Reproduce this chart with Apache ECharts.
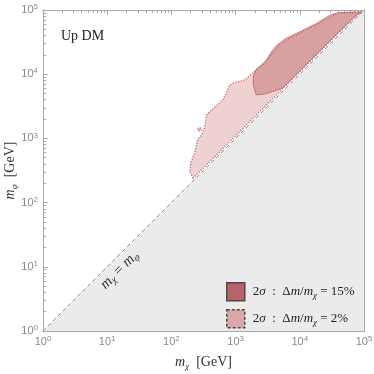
<!DOCTYPE html>
<html lang="en">
<head>
<meta charset="utf-8"/>
<title>Up DM</title>
<script src="https://cdn.jsdelivr.net/npm/echarts@6/dist/echarts.min.js"></script>
<style>
  html, body { margin: 0; padding: 0; background: #fff; }
  #chart { width: 374px; height: 374px; }
</style>
</head>
<body>
<div id="chart"></div>
<script>
// axis range (GeV), decade ticks
const axisMin = 1;
const axisMax = 1e5;
const decadeTicks = [1, 10, 100, 1000, 1e4, 1e5];
const minorTicks = [];
decadeTicks.slice(0, -1).forEach(function (d) {
    for (let k = 2; k <= 9; k++) minorTicks.push(k * d);
});

// kinematically forbidden corner m_phi < m_chi and the m_chi = m_phi line
const forbidden = [[1, 1], [1e5, 1e5], [1e5, 1]];
const diagonal = [[1, 1], [1e5, 1e5]];

// 2 sigma region, Delta m / m_chi = 2%  [m_chi, m_phi]
const region2 = [
    [219, 240], [193, 302], [200, 417], [229, 589], [245, 794], [257, 955],
    [295, 1122], [331, 1514], [351, 2291], [417, 2754], [562, 3548], [631, 3981],
    [813, 6761], [912, 7244], [1380, 8130], [1862, 10470], [2138, 12020],
    [2754, 14450], [3715, 21380], [4571, 26920], [6310, 34670], [10000, 43650],
    [12590, 48980], [18200, 58880], [25120, 70790], [31620, 81280],
    [41690, 89130], [79430, 91200], [93330, 93330],
    [79430, 85110], [39810, 43650], [15850, 17380], [6310, 6918], [2512, 2754],
    [1000, 1096], [398, 437], [229, 251]
];
const region2Island = [[257, 1380], [275, 1479], [295, 1380], [275, 1288]];

// 2 sigma region, Delta m / m_chi = 15%
const region15 = [
    [2089, 4786], [1884, 6761], [1884, 9120], [2089, 11750], [2692, 14790],
    [3020, 16600], [3631, 22390], [4365, 28180], [6166, 36310], [10000, 45710],
    [12590, 51290], [18200, 61660], [24550, 74130], [30900, 85110],
    [41690, 91200], [81280, 93330], [91200, 91200],
    [75860, 83180], [39810, 44670], [15850, 17780], [7943, 8913], [5495, 6166],
    [3802, 5370], [2818, 4898], [2239, 4786]
];

const diagLabelAt = [15.5, 8.9];

const axisColor = '#a8a8a8';
const labelColor = '#8a8a8a';
const serif = '"Liberation Serif", "DejaVu Serif", serif';
const sans = '"Liberation Sans", "DejaVu Sans", sans-serif';

const chart = echarts.init(document.getElementById('chart'), null, {renderer: 'canvas'});

function supLabel(value) {
    const e = Math.round(Math.log10(value));
    return '{b|10}{p|' + e + '}';
}
const tickRich = {
    b: {fontFamily: sans, fontSize: 11, color: labelColor, lineHeight: 14},
    p: {fontFamily: sans, fontSize: 8, color: labelColor, lineHeight: 8, verticalAlign: 'top'}
};
const nameRich = {
    i: {fontFamily: serif, fontSize: 14, fontStyle: 'italic', color: '#333', lineHeight: 18},
    s: {fontFamily: serif, fontSize: 9, fontStyle: 'italic', color: '#333', lineHeight: 9, verticalAlign: 'bottom'},
    n: {fontFamily: serif, fontSize: 14, color: '#333', lineHeight: 18}
};

function makeAxis(dim, position, ticks, len, withLabels) {
    const ax = {
        type: 'log',
        logBase: 10,
        min: axisMin,
        max: axisMax,
        position: position,
        axisLine: {show: true, lineStyle: {color: axisColor, width: 1}},
        axisTick: {show: true, inside: true, length: len, customValues: ticks,
            lineStyle: {color: axisColor, width: 1}},
        axisLabel: {show: false},
        splitLine: {show: false},
        minorTick: {show: false}
    };
    if (withLabels) {
        ax.axisLabel = {
            show: true,
            customValues: decadeTicks,
            formatter: supLabel,
            rich: tickRich,
            margin: dim === 'x' ? 4 : 5
        };
        ax.nameLocation = 'middle';
        ax.nameMoveOverlap = false;
        if (dim === 'x') {
            ax.name = '{i|m}{s|χ}{n|  [GeV]}';
            ax.nameGap = 22;
        } else {
            ax.name = '{i|m}{s|φ}{n|  [GeV]}';
            ax.nameGap = 24;
        }
        ax.nameTextStyle = {rich: nameRich};
    }
    return ax;
}

function polygonItem(points, api, style) {
    return {
        type: 'polygon',
        shape: {points: points.map(function (p) { return api.coord(p); })},
        style: style
    };
}

function regionSeries(name, polys, style) {
    return {
        type: 'custom',
        name: name,
        coordinateSystem: 'cartesian2d',
        xAxisIndex: 0,
        yAxisIndex: 0,
        silent: true,
        clip: true,
        data: polys[0],
        renderItem: function (params, api) {
            if (params.dataIndex !== 0) return;
            return {
                type: 'group',
                children: polys.map(function (p) { return polygonItem(p, api, style); })
            };
        }
    };
}

function legendText(pct) {
    return '{g|2}{gi|σ}{g|  :  Δ}{gi|m}{g|/}{gi|m}{gs|χ}{g| = ' + pct + '}';
}

const option = {
    animation: false,
    backgroundColor: '#fff',
    grid: {left: 43, right: 10, top: 10, bottom: 43, containLabel: false, outerBoundsMode: 'none'},
    xAxis: [
        makeAxis('x', 'bottom', decadeTicks, 5, true),
        makeAxis('x', 'bottom', minorTicks, 3, false),
        makeAxis('x', 'top', decadeTicks, 5, false),
        makeAxis('x', 'top', minorTicks, 3, false)
    ],
    yAxis: [
        makeAxis('y', 'left', decadeTicks, 5, true),
        makeAxis('y', 'left', minorTicks, 3, false),
        makeAxis('y', 'right', decadeTicks, 5, false),
        makeAxis('y', 'right', minorTicks, 3, false)
    ],
    legend: {
        left: 221,
        top: 277,
        orient: 'vertical',
        itemWidth: 18,
        itemHeight: 18,
        itemGap: 7.5,
        selectedMode: false,
        icon: 'rect',
        data: [
            {name: '15%', itemStyle: {color: '#b86466', borderColor: '#4a4a4a', borderWidth: 1.5}},
            {name: '2%', itemStyle: {color: '#d9a9aa', borderColor: '#4a4a4a', borderWidth: 1.5, borderType: [3, 2]}}
        ],
        formatter: legendText,
        textStyle: {
            rich: {
                g: {fontFamily: serif, fontSize: 13, color: '#222', lineHeight: 16},
                gi: {fontFamily: serif, fontSize: 13, fontStyle: 'italic', color: '#222', lineHeight: 16},
                gs: {fontFamily: serif, fontSize: 9, fontStyle: 'italic', color: '#222', lineHeight: 9, verticalAlign: 'bottom'}
            },
            padding: [0, 0, 0, 3]
        }
    },
    graphic: [{
        type: 'text',
        left: 61,
        top: 29,
        style: {text: 'Up DM', font: '14px ' + serif, fill: '#222'}
    }],
    series: [
        regionSeries('forbidden', [forbidden], {fill: '#ebebeb', stroke: null}),
        {
            type: 'line',
            name: 'diag',
            data: diagonal,
            symbol: 'none',
            silent: true,
            lineStyle: {color: '#8c8c8c', width: 1, type: [4, 3]}
        },
        regionSeries('2%', [region2, region2Island], {
            fill: '#efd1d2',
            stroke: '#c46a6e',
            lineWidth: 1.4,
            lineDash: [1.2, 1.6]
        }),
        regionSeries('15%', [region15], {
            fill: 'rgba(190, 100, 104, 0.45)',
            stroke: '#b8666a',
            lineWidth: 0.8
        }),
        {
            type: 'custom',
            name: 'diag label',
            silent: true,
            data: [diagLabelAt],
            renderItem: function (params, api) {
                const pt = api.coord(diagLabelAt);
                return {
                    type: 'text',
                    x: pt[0],
                    y: pt[1],
                    rotation: Math.PI / 4,
                    style: {
                        text: '{i|m}{s|χ}{n| = }{i|m}{s|φ}',
                        font: '15px ' + serif,
                        fill: '#333',
                        align: 'center',
                        verticalAlign: 'middle',
                        rich: {
                            i: {font: 'italic 15px ' + serif, fill: '#333', lineHeight: 17},
                            s: {font: 'italic 10px ' + serif, fill: '#333', lineHeight: 9, verticalAlign: 'bottom'},
                            n: {font: '15px ' + serif, fill: '#333', lineHeight: 17}
                        }
                    }
                };
            }
        }
    ]
};
chart.setOption(option);
</script>
</body>
</html>
